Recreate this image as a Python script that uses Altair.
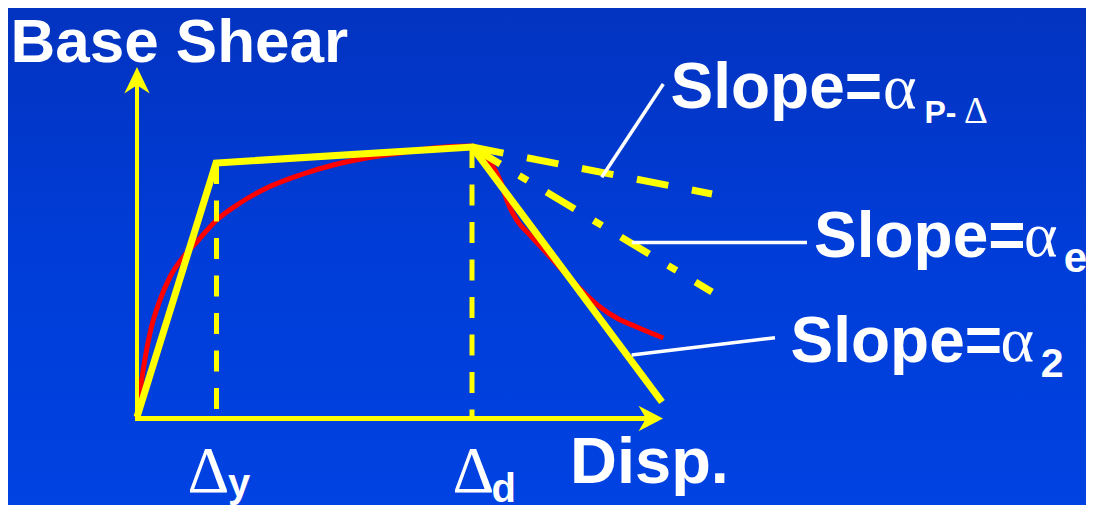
import altair as alt
import pandas as pd

# ---------------- data (diagram units: displacement, base shear) ----------------
# yellow bilinear backbone: origin -> yield -> peak -> degraded end
backbone_disp = [0.0, 0.79, 3.35, 5.25]
backbone_shear = [0.0, 2.54, 2.70, 0.15]

# red smooth response curve
curve_disp = [0.0, 0.047, 0.13, 0.23, 0.33, 0.463, 0.597, 0.797, 1.03, 1.297, 1.63,
              1.963, 2.297, 2.63, 2.963, 3.33, 3.53, 3.63, 3.71, 3.797, 3.93, 4.097,
              4.297, 4.463, 4.63, 4.797, 4.997, 5.263]
curve_shear = [0.0, 0.37, 0.84, 1.17, 1.40, 1.60, 1.75, 1.97, 2.14, 2.29, 2.42,
               2.52, 2.59, 2.64, 2.69, 2.71, 2.55, 2.37, 2.14, 1.97, 1.82, 1.64,
               1.42, 1.25, 1.10, 0.99, 0.90, 0.79]

# dashed drop lines at yield (Δy) and peak (Δd)
drop_disp = [0.795, 3.35]
drop_top = [2.54, 2.70]
drop_bottom = [0.0, 0.0]

# post-peak slope guides from the peak
guide_names = ["P-Delta", "alpha_e"]
guide_x1 = [3.35, 3.35]
guide_y1 = [2.70, 2.70]
guide_x2 = [5.75, 5.75]
guide_y2 = [2.23, 1.25]

# white leader lines to the slope labels
leader_x1 = [4.647, 4.947, 4.947]
leader_y1 = [2.397, 1.745, 0.620]
leader_x2 = [5.263, 6.700, 6.380]
leader_y2 = [3.330, 1.745, 0.793]

# axes
axis_y_top = 3.50      # arrow tip of the vertical axis
axis_x_end = 5.26      # arrow tip of the horizontal axis
axis_x_level = -0.015

# labels (anchor = left end of text on its baseline)
label_ids = ["base", "slope1", "alpha1", "sub1", "subdelta1",
             "slope2", "alpha2", "sub2", "slope3", "alpha3", "sub3",
             "disp", "delta_y", "sub_y", "delta_d", "sub_d"]
label_text = ["Base Shear", "Slope=", "α", "P-", "Δ",
              "Slope=", "α", "e", "Slope=", "α", "2",
              "Disp.", "Δ", "y", "Δ", "d"]
label_disp = [-1.266, 5.335, 7.46, 7.875, 8.27,
              6.77, 8.87, 9.267, 6.535, 8.635, 9.037,
              4.33, 0.505, 0.91, 3.155, 3.546]
label_shear = [3.555, 3.087, 3.095, 2.937, 2.937,
               1.603, 1.61, 1.453, 0.553, 0.563, 0.403,
               -0.663, -0.747, -0.795, -0.747, -0.845]

# ---------------- tables ----------------
backbone = pd.DataFrame({"disp": backbone_disp, "shear": backbone_shear})
curve = pd.DataFrame({"disp": curve_disp, "shear": curve_shear})
drops = pd.DataFrame({"disp": drop_disp, "top": drop_top, "bottom": drop_bottom})
guides = pd.DataFrame({"name": guide_names, "x1": guide_x1, "y1": guide_y1,
                       "x2": guide_x2, "y2": guide_y2})
leaders = pd.DataFrame({"x1": leader_x1, "y1": leader_y1, "x2": leader_x2, "y2": leader_y2})
axes_v = pd.DataFrame({"x": [0.0], "y1": [-0.01], "y2": [axis_y_top - 0.18]})
axes_h = pd.DataFrame({"y": [axis_x_level], "x1": [-0.02], "x2": [axis_x_end - 0.15]})
tips = pd.DataFrame({"name": ["up", "right"], "disp": [0.0, axis_x_end],
                     "shear": [axis_y_top, axis_x_level]})
labels = pd.DataFrame({"id": label_ids, "text": label_text,
                       "disp": label_disp, "shear": label_shear})

W, H = 1078, 497
xs = alt.Scale(domain=[-1.29, 9.49], nice=False, zero=False)
ys = alt.Scale(domain=[-0.88, 4.09], nice=False, zero=False)

YEL = "#FFFF00"
RED = "#FF0000"
WHITE = "#FFFFFF"


def X(f):
    return alt.X(f, type="quantitative", scale=xs, axis=None)


def Y(f):
    return alt.Y(f, type="quantitative", scale=ys, axis=None)


bg = alt.Chart(pd.DataFrame({"a": [0]})).mark_rect(
    color=alt.LinearGradient(
        gradient="linear",
        stops=[alt.GradientStop(color="#0333C0", offset=0),
               alt.GradientStop(color="#003DD8", offset=0.5),
               alt.GradientStop(color="#0042E2", offset=1)],
        x1=0, x2=0, y1=0, y2=1)
).encode(x=alt.value(0), x2=alt.value(W), y=alt.value(0), y2=alt.value(H))

red = alt.Chart(curve).mark_line(color=RED, strokeWidth=5, interpolate="monotone").encode(
    x=X("disp"), y=Y("shear"))

drop_lines = alt.Chart(drops).mark_rule(color=YEL, strokeWidth=5, strokeDash=[21, 16.5]).encode(
    x=X("disp"), y=Y("top"), y2="bottom")

pdelta = alt.Chart(guides[guides.name == "P-Delta"]).mark_rule(
    color=YEL, strokeWidth=7, strokeDash=[32, 24]).encode(
    x=X("x1"), y=Y("y1"), x2="x2", y2="y2")

alpha_e = alt.Chart(guides[guides.name == "alpha_e"]).mark_rule(
    color=YEL, strokeWidth=7, strokeDash=[33, 22, 10, 22]).encode(
    x=X("x1"), y=Y("y1"), x2="x2", y2="y2")

yellow = alt.Chart(backbone).mark_line(color=YEL, strokeWidth=7, strokeJoin="miter").encode(
    x=X("disp"), y=Y("shear"))

vaxis = alt.Chart(axes_v).mark_rule(color=YEL, strokeWidth=4).encode(
    x=X("x"), y=Y("y1"), y2="y2")
haxis = alt.Chart(axes_h).mark_rule(color=YEL, strokeWidth=5).encode(
    x=X("x1"), x2="x2", y=Y("y"))

up_tip = alt.Chart(tips[tips.name == "up"]).mark_point(
    shape="M0,0 L12.7,26.6 L0,18.3 L-12.7,26.6 Z", size=4, filled=True,
    color=YEL, opacity=1, strokeWidth=0).encode(x=X("disp"), y=Y("shear"))
right_tip = alt.Chart(tips[tips.name == "right"]).mark_point(
    shape="M0,0 L-24.5,-12.8 L-17,0 L-24.5,12.8 Z", size=4, filled=True,
    color=YEL, opacity=1, strokeWidth=0).encode(x=X("disp"), y=Y("shear"))

leader_lines = alt.Chart(leaders).mark_rule(color=WHITE, strokeWidth=3.5).encode(
    x=X("x1"), y=Y("y1"), x2="x2", y2="y2")

SANS = "Liberation Sans"
SERIF = "Liberation Serif"
label_style = {
    "base": (SANS, 62, "bold"),
    "slope1": (SANS, 64, "bold"),
    "alpha1": (SERIF, 64, "normal"),
    "sub1": (SANS, 32, "bold"),
    "subdelta1": (SERIF, 37, "normal"),
    "slope2": (SANS, 64, "bold"),
    "alpha2": (SERIF, 64, "normal"),
    "sub2": (SANS, 42, "bold"),
    "slope3": (SANS, 64, "bold"),
    "alpha3": (SERIF, 64, "normal"),
    "sub3": (SANS, 41, "bold"),
    "disp": (SANS, 65, "bold"),
    "delta_y": (SERIF, 65, "normal"),
    "sub_y": (SANS, 40, "bold"),
    "delta_d": (SERIF, 65, "normal"),
    "sub_d": (SANS, 40, "bold"),
}

text_layers = []
for lid, (font, size, weight) in label_style.items():
    text_layers.append(
        alt.Chart(labels).transform_filter(alt.datum.id == lid).mark_text(
            align="left", baseline="alphabetic", font=font, fontSize=size,
            fontWeight=weight, color=WHITE).encode(
            x=X("disp"), y=Y("shear"), text="text:N"))

chart = alt.layer(
    bg, red, drop_lines, pdelta, alpha_e, yellow, vaxis, haxis, up_tip, right_tip,
    leader_lines, *text_layers
).properties(
    width=W, height=H, padding=0,
    autosize=alt.AutoSizeParams(type="none")
).configure_view(stroke=None).configure(background="#0333C0")

chart.save("out.html", embed_options={"renderer": "svg", "actions": False})
